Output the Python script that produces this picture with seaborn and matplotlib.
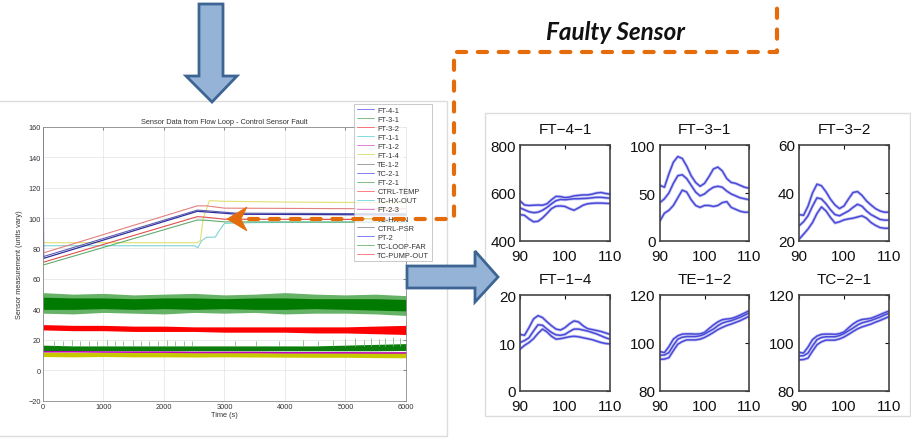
import numpy as np
import pandas as pd
import matplotlib
matplotlib.use("Agg")
import matplotlib.pyplot as plt
from matplotlib.patches import Polygon, Rectangle
from matplotlib.lines import Line2D
import seaborn as sns

sns.set_style("white")
plt.rcParams["font.family"] = ["Liberation Sans", "DejaVu Sans"]

# ------------------------------------------------------------------
# Flow-loop overview chart
# ------------------------------------------------------------------
legend_names = ["FT-4-1", "FT-3-1", "FT-3-2", "FT-1-1", "FT-1-2", "FT-1-4",
                "TE-1-2", "TC-2-1", "FT-2-1", "CTRL-TEMP", "TC-HX-OUT",
                "FT-2-3", "TC-HX-IN", "CTRL-PSR", "PT-2", "TC-LOOP-FAR",
                "TC-PUMP-OUT"]

# ramping temperature channels (time in s, value)
pump_out_t = [0, 2550, 2700, 3000, 6000]
pump_out_v = [77, 108, 108, 106.5, 106]
tc21_t = [0, 10, 2550, 2700, 3200, 6000]
tc21_v = [160, 73.5, 104.4, 104, 102.5, 102]
pt2_t = [0, 2550, 2700, 3200, 6000]
pt2_v = [74.6, 105.2, 104.8, 103.2, 102.8]
ctrl_temp_t = [0, 2550, 2700, 3000, 6000]
ctrl_temp_v = [70.9, 100.9, 100.5, 99.2, 99]
loop_far_t = [0, 2550, 2700, 3000, 6000]
loop_far_v = [69.1, 98.7, 98.5, 97.5, 97.3]
hx_in_t = [0, 2550, 2600, 2650, 2750, 3000, 4000, 6000]
hx_in_v = [83.8, 83.8, 85, 100, 111.4, 111, 110.5, 110]
hx_out_t = [0, 2500, 2560, 2620, 2700, 2850, 2900, 3000, 3500, 6000]
hx_out_v = [81.8, 81.8, 80.5, 85, 87.3, 87.5, 91, 96.5, 97, 97.5]

# noisy flow channels, given as envelopes sampled every 500 s
band_t = [0, 500, 1000, 1500, 2000, 2500, 3000, 3500, 4000, 4500, 5000, 5500, 6000]
ft31_outer_hi = [51, 50, 50.5, 49.5, 50, 50.5, 49.5, 50, 51, 50, 49.5, 50, 49]
ft31_hi = [48, 47.5, 47.5, 47, 47.5, 47.5, 47, 47.5, 47.5, 47, 47, 47, 46.5]
ft31_lo = [40, 40, 40.5, 40, 40.5, 40, 40.5, 40, 40, 40.5, 40, 39.5, 39]
ft31_outer_lo = [37.5, 37, 38, 37.5, 37, 38, 37.5, 38, 37, 37.5, 37.5, 37, 36]
ft32_hi = [30, 29.5, 29.5, 29, 29, 28.5, 28.5, 28.5, 28.5, 28.5, 28.5, 29, 29.5]
ft32_lo = [26.5, 26, 26, 25.5, 25.5, 25.5, 25, 25, 25, 24.5, 24.5, 24, 23.5]
ft21_hi = [16.5, 16, 16, 16, 16, 16, 16, 16, 16, 16, 16.5, 17, 17.5]
ft21_lo = [12.5, 12.8, 12.8, 12.8, 12.8, 12.8, 12.8, 12.8, 12.8, 12.8, 12.8, 12.8, 13]
ft12_hi = [13, 13, 12.8, 12.7, 12.7, 12.5, 12.5, 12.5, 12.3, 12.3, 12.3, 12.2, 12.2]
ft12_lo = [12, 12, 11.8, 11.7, 11.7, 11.5, 11.5, 11.5, 11.3, 11.3, 11.3, 11.2, 11.2]
ft14_hi = [12, 11.8, 11.8, 11.7, 11.7, 11.6, 11.6, 11.6, 11.5, 11.5, 11.6, 11.8, 12]
ft14_lo = [9, 8.8, 9, 8.8, 8.8, 8.7, 8.8, 8.7, 8.6, 8.5, 8.5, 8.3, 8.2]
# intermittent spikes on FT-2-1
spike_t = [180, 330, 480, 610, 760, 900, 1050, 1190, 1330, 1480, 1620, 1760,
           1900, 2050, 2190, 2330, 2470, 3180, 3520, 3900, 4300, 4550, 4800,
           5000, 5150, 5300, 5420, 5550, 5660, 5780, 5900]
spike_top = [19.5, 19, 20, 19, 19.5, 19, 20, 19.5, 19, 20, 19.5, 19, 19.5,
             20, 19, 19.5, 19, 19, 19.5, 19, 20, 19.5, 20, 20.5, 21, 20,
             21, 20.5, 21.5, 22, 21]

# ------------------------------------------------------------------
# Faulty-sensor detail panels (x = 90 .. 110)
# ------------------------------------------------------------------
detail_x = list(range(90, 111))
detail_titles = ["FT\u22124\u22121", "FT\u22123\u22121", "FT\u22123\u22122",
                 "FT\u22121\u22124", "TE\u22121\u22122", "TC\u22122\u22121"]
detail_yticks = [[400, 600, 800], [0, 50, 100], [20, 40, 60],
                 [0, 10, 20], [80, 100, 120], [80, 100, 120]]

ft41_up = [567, 550, 548, 549, 550, 549, 555, 572, 586, 585, 581, 583, 588, 590, 592, 592, 595, 600, 602, 598, 595]
ft41_mid = [538, 530, 522, 518, 520, 528, 540, 555, 568, 573, 572, 574, 576, 576, 577, 578, 580, 582, 582, 580, 578]
ft41_low = [510, 507, 492, 480, 482, 496, 515, 535, 545, 546, 544, 535, 528, 538, 549, 555, 557, 558, 558, 557, 556]

ft31_up = [58, 56, 70, 82, 88, 86, 78, 68, 61, 57, 60, 67, 75, 77, 73, 65, 61, 60, 58, 56, 55]
ft31_mid = [40, 44, 50, 60, 68, 69, 65, 58, 51, 47, 49, 53, 56, 57, 56, 52, 49, 47, 45, 44, 43]
ft31_low = [21, 29, 32, 37, 45, 53, 51, 43, 37, 35, 37, 37, 36, 37, 40, 41, 35, 33, 31, 30, 30]

ft32_up = [31, 30.7, 34.5, 40, 43.7, 43, 40.5, 37.4, 35, 33.5, 34.6, 37.5, 40.2, 40.6, 39, 36.7, 35, 33.5, 32.5, 32, 32]
ft32_mid = [26.3, 28, 30.5, 34.5, 38, 37.5, 35.5, 33, 31, 30.5, 31.5, 32.5, 34, 35.3, 34.5, 32.5, 31, 30, 29, 28.7, 28.7]
ft32_low = [20.7, 22.8, 25, 27.7, 31.5, 34.2, 32.5, 29.8, 27.5, 28, 28.8, 29.2, 29.5, 30, 30.5, 29.5, 27.7, 26.5, 25.6, 25.3, 25.3]

ft14_up = [11.8, 11.6, 13.2, 15, 15.7, 15.3, 14.4, 13.6, 12.9, 12.7, 13.2, 14, 14.6, 14.4, 13.6, 13, 12.8, 12.6, 12.4, 12.1, 11.8]
ft14_mid = [10.1, 10.5, 11.1, 12.5, 13.8, 13.7, 12.9, 12.2, 11.7, 11.6, 11.8, 12.4, 12.9, 12.9, 12.7, 12.5, 12.2, 11.9, 11.5, 11.1, 10.8]
ft14_low = [8.7, 9.5, 10.1, 10.9, 12, 12.9, 12.3, 11.4, 10.8, 10.9, 11.1, 11.3, 11.4, 11.3, 11.1, 10.9, 10.7, 10.4, 10.1, 9.9, 9.8]

te12_up = [96.4, 96, 98.5, 101.6, 103, 103.7, 103.8, 103.8, 103.7, 103.8, 104.4, 106, 107.5, 108.8, 109.7, 110, 110.2, 110.8, 111.6, 112.5, 113.4]
te12_mid = [94.9, 95, 96, 99, 101.6, 102.4, 102.7, 102.7, 102.7, 103, 103.7, 104.8, 105.8, 107.2, 108.3, 108.9, 109.3, 110, 110.7, 111.6, 112.5]
te12_low = [93.2, 93.3, 93.9, 96.8, 99.5, 100.6, 101.3, 101.3, 101.3, 101.6, 102.3, 103.3, 104.4, 105.6, 106.5, 107.3, 107.9, 108.6, 109.3, 110.2, 111.1]

tc21_up = [96.1, 95.8, 98.3, 101.4, 102.9, 103.6, 103.7, 103.7, 103.6, 103.9, 104.6, 106.3, 107.9, 109.1, 109.8, 110, 110.3, 111, 111.8, 112.6, 113.3]
tc21_mid = [94.6, 94.7, 95.8, 98.8, 101.4, 102.3, 102.6, 102.6, 102.6, 103.1, 103.9, 105.1, 106.2, 107.5, 108.4, 108.9, 109.4, 110.1, 110.8, 111.7, 112.4]
tc21_low = [93, 93.1, 93.7, 96.6, 99.3, 100.5, 101.2, 101.2, 101.2, 101.7, 102.5, 103.6, 104.8, 105.9, 106.7, 107.3, 107.9, 108.7, 109.4, 110.2, 111]

detail_curves = [(ft41_up, ft41_mid, ft41_low), (ft31_up, ft31_mid, ft31_low),
                 (ft32_up, ft32_mid, ft32_low), (ft14_up, ft14_mid, ft14_low),
                 (te12_up, te12_mid, te12_low), (tc21_up, tc21_mid, tc21_low)]

# ------------------------------------------------------------------
W, H = 912, 439
fig = plt.figure(figsize=(W / 100, H / 100), dpi=100)
fig.patch.set_facecolor("white")


def px_rect(x0, y0, x1, y1):
    return [x0 / W, 1 - y1 / H, (x1 - x0) / W, (y1 - y0) / H]


# panel frames
bg = fig.add_axes([0, 0, 1, 1], zorder=-5)
bg.set_xlim(0, W)
bg.set_ylim(H, 0)
bg.axis("off")
bg.add_patch(Rectangle((-5, 102), 452, 335, fill=False, ec="#dcdcdc", lw=1.0))
bg.add_patch(Rectangle((485, 114), 425, 303, fill=False, ec="#dcdcdc", lw=1.0))

# ---- overview chart
mb, mg, mr, mc, mm, my, mk = ("#0000ff", "#008000", "#ff0000", "#00bfbf",
                              "#bf00bf", "#bfbf00", "#404040")
cycle = [mb, mg, mr, mc, mm, my, mk]

ax = fig.add_axes(px_rect(43, 127.7, 406, 401.7))
ax.set_facecolor("white")
small = 5.3

ax.fill_between(band_t, ft14_lo, ft14_hi, color="#c8c800", lw=0)
ax.vlines(spike_t, [16] * len(spike_t), spike_top, color="#7cbf7c", lw=0.6)
ax.fill_between(band_t, ft21_lo, ft21_hi, color="#0b7d0b", lw=0)
ax.fill_between(band_t, ft12_lo, ft12_hi, color="#c000c0", lw=0)
ax.fill_between(band_t, ft32_lo, ft32_hi, color="#ff0000", lw=0)
ax.fill_between(band_t, ft31_outer_lo, ft31_outer_hi, color="#66b266", lw=0)
ax.fill_between(band_t, ft31_lo, ft31_hi, color="#007a00", lw=0)

sns.lineplot(x=hx_out_t, y=hx_out_v, ax=ax, color="#7fd3d3", lw=0.8)
sns.lineplot(x=hx_in_t, y=hx_in_v, ax=ax, color="#e0e070", lw=0.8)
sns.lineplot(x=loop_far_t, y=loop_far_v, ax=ax, color="#5fae6f", lw=0.8)
sns.lineplot(x=ctrl_temp_t, y=ctrl_temp_v, ax=ax, color="#e05050", lw=0.8)
sns.lineplot(x=pt2_t, y=pt2_v, ax=ax, color="#6060b0", lw=0.8)
sns.lineplot(x=tc21_t, y=tc21_v, ax=ax, color="#3030a0", lw=0.9)
sns.lineplot(x=pump_out_t, y=pump_out_v, ax=ax, color="#e58080", lw=0.8)

ax.set_xlim(0, 6000)
ax.set_ylim(-20, 160)
ax.set_xticks(range(0, 6001, 1000))
ax.set_yticks(range(-20, 161, 20))
ax.grid(True, color="#e3e3e3", lw=0.5)
ax.set_axisbelow(True)
ax.tick_params(labelsize=small, colors="#333333", direction="in", length=2,
               width=0.4, pad=1.5, top=True, right=True)
for s in ax.spines.values():
    s.set_color("#8a8a8a")
    s.set_linewidth(0.6)
ax.set_title("Sensor Data from Flow Loop - Control Sensor Fault",
             fontsize=small, color="#333333", pad=2.5)
ax.set_xlabel("Time (s)", fontsize=small, color="#333333", labelpad=1)
ax.set_ylabel("Sensor measurement (units vary)", fontsize=small,
              color="#333333", labelpad=4)

handles = [Line2D([], [], color=cycle[i % 7], lw=0.7, alpha=0.5)
           for i in range(len(legend_names))]
leg = ax.legend(handles, legend_names, loc="upper left",
                bbox_to_anchor=(354 / W, 1 - 105 / H),
                bbox_transform=fig.transFigure, fontsize=small,
                frameon=True, fancybox=False, borderaxespad=0,
                labelspacing=0.26, handlelength=2.3, handletextpad=0.5,
                borderpad=0.35)
leg.get_frame().set_edgecolor("#b0b0b0")
leg.get_frame().set_linewidth(0.6)
for t in leg.get_texts():
    t.set_color("#333333")

# ---- detail panels
col_x = [(520, 610), (660, 749), (799, 889)]
row_y = [(146, 242), (296, 392)]
line_blue = "#4a4ad8"
for k, (curves, title, yt) in enumerate(zip(detail_curves, detail_titles,
                                            detail_yticks)):
    r, c = divmod(k, 3)
    a = fig.add_axes(px_rect(col_x[c][0], row_y[r][0], col_x[c][1], row_y[r][1]))
    df = pd.DataFrame({
        "x": detail_x * 3,
        "value": list(curves[0]) + list(curves[1]) + list(curves[2]),
        "curve": ["upper"] * 21 + ["middle"] * 21 + ["lower"] * 21,
    })
    sns.lineplot(data=df, x="x", y="value", units="curve", estimator=None,
                 ax=a, color="#c4c4f2", lw=2.2)
    sns.lineplot(data=df, x="x", y="value", units="curve", estimator=None,
                 ax=a, color=line_blue, lw=1.1)
    a.set_xlim(90, 110)
    a.set_ylim(yt[0], yt[-1])
    a.set_xticks([90, 100, 110])
    a.set_yticks(yt)
    a.set_xlabel("")
    a.set_ylabel("")
    a.set_title(title, fontsize=11, pad=9, color="#111111")
    a.tick_params(labelsize=11, direction="in", length=3, width=0.8,
                  top=True, right=True, pad=3, colors="#111111")
    a.tick_params(axis="x", pad=6)
    for s in a.spines.values():
        s.set_color("#444444")
        s.set_linewidth(1.2)

# ---- annotation layer
ov = fig.add_axes([0, 0, 1, 1], zorder=20)
ov.set_xlim(0, W)
ov.set_ylim(H, 0)
ov.axis("off")
ov.patch.set_alpha(0)

arrow_fill, arrow_edge = "#95b3d7", "#3d6593"
ov.add_patch(Polygon([(199, 5), (223, 5), (223, 77), (237, 77), (212, 103),
                      (186, 77), (199, 77)], closed=True, fc=arrow_fill,
                     ec=arrow_edge, lw=2, joinstyle="miter"))
ov.add_patch(Polygon([(407, 267), (475, 267), (475, 252), (498, 278),
                      (475, 303), (475, 289), (407, 289)], closed=True,
                     fc=arrow_fill, ec=arrow_edge, lw=2, joinstyle="miter"))

orange = "#e46c0a"
ov.plot([249, 454, 454, 777, 777], [220, 220, 53, 53, 0], color=orange,
        lw=3, dashes=(2.2, 2.8), dash_capstyle="round")
ov.add_patch(Polygon([(227, 220), (247, 208), (241, 220), (247, 232)],
                     closed=True, fc=orange, ec=orange, lw=0.5))

ov.text(616, 33, "Faulty Sensor", fontsize=17.5, fontweight="bold",
        fontstyle="italic", family=["Lato", "DejaVu Sans"], ha="center",
        va="center", color="#111111")

fig.savefig("out.png", dpi=100)
